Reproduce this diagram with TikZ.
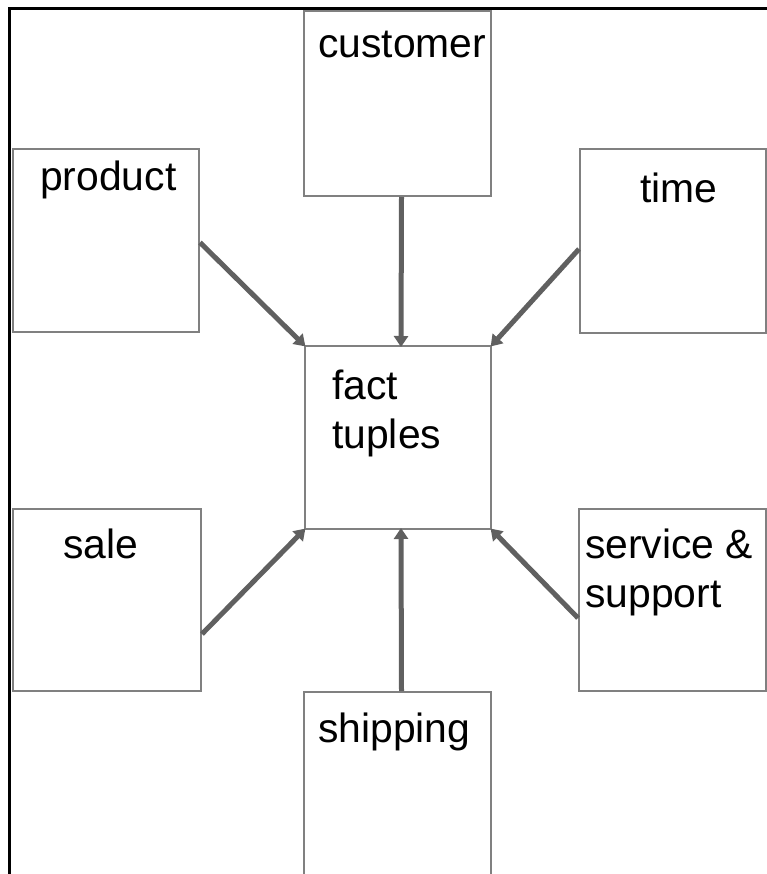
\documentclass[tikz,border=0pt]{standalone}
\usepackage{fontspec}
\setmainfont{Liberation Sans}
\usetikzlibrary{arrows.meta,calc}
\definecolor{boxgray}{RGB}{128,128,128}
\definecolor{arrowgray}{RGB}{96,96,96}
\tikzset{
  dimbox/.style={draw=boxgray, line width=2bp, fill=white, inner sep=0pt, anchor=north west},
  boxtext/.style={anchor=base west, inner sep=0pt, align=left,
    font=\fontsize{41}{49}\selectfont, text=black},
  feed/.style={draw=arrowgray, line width=5bp,
    -{Triangle[length=11bp,width=14bp]}, shorten >=-2bp},
  frameline/.style={draw=black, line width=3bp}
}
\begin{document}
\begin{tikzpicture}[x=1bp,y=-1bp]
  \useasboundingbox (0,0) rectangle (767,874);
  \clip (0,0) rectangle (767,874);
  % frame edges
  \draw[frameline] (9,874) -- (9,8) -- (767,8);

  % dimension boxes and the central fact box
  \node[dimbox, minimum width=187bp, minimum height=185bp] (customer) at (303,10) {};
  \node[dimbox, minimum width=186bp, minimum height=183bp] (product) at (12,148) {};
  \node[dimbox, minimum width=186bp, minimum height=184bp] (time) at (579,148) {};
  \node[dimbox, minimum width=186bp, minimum height=183bp] (fact) at (304,345) {};
  \node[dimbox, minimum width=188bp, minimum height=182bp] (sale) at (12,508) {};
  \node[dimbox, minimum width=187bp, minimum height=182bp] (service) at (578,508) {};
  \node[dimbox, minimum width=187bp, minimum height=200bp] (shipping) at (303,691) {};

  % box labels (base anchor sits on the last line)
  \node[boxtext] (customer-t) at (318,57) {customer};
  \node[boxtext] (product-t) at (40,190) {product};
  \node[boxtext] (time-t) at (640,202) {time};
  \node[boxtext] (fact-t) at (332,448) {fact\\tuples};
  \node[boxtext] (sale-t) at (63,558) {sale};
  \node[boxtext] (service-t) at (585,607) {service \&\\support};
  \node[boxtext] (shipping-t) at (318,742) {shipping};

  % connectors into the fact box
  \draw[feed] ([yshift=-2bp]product.east) -- (fact.north west);
  \draw[feed] ([xshift=4bp]customer.south) -- ([xshift=3bp]fact.north);
  \draw[feed] ([yshift=-8bp]time.west) -- (fact.north east);
  \draw[feed] ([yshift=-34bp]sale.east) -- (fact.south west);
  \draw[feed] ([xshift=4bp]shipping.north) -- ([xshift=3bp]fact.south);
  \draw[feed] ([yshift=-18bp]service.west) -- (fact.south east);
\end{tikzpicture}
\end{document}
